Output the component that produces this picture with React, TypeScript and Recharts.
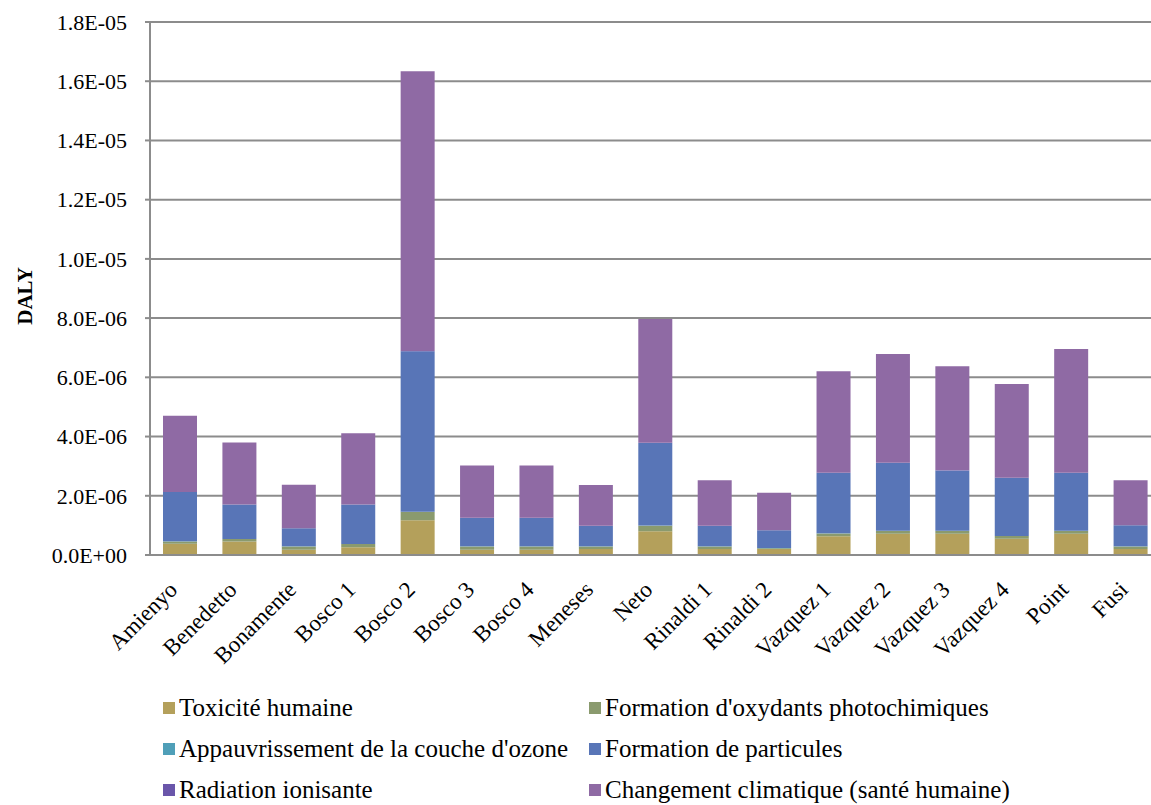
import { BarChart, Bar, XAxis, YAxis, CartesianGrid, Legend } from 'recharts';

// values in units of 1E-06 DALY
const categories = [
  'Amienyo', 'Benedetto', 'Bonamente', 'Bosco 1', 'Bosco 2', 'Bosco 3', 'Bosco 4', 'Meneses', 'Neto',
  'Rinaldi 1', 'Rinaldi 2', 'Vazquez 1', 'Vazquez 2', 'Vazquez 3', 'Vazquez 4', 'Point', 'Fusi',
];
const toxicite = [0.38, 0.46, 0.18, 0.26, 1.17, 0.18, 0.18, 0.2, 0.8, 0.2, 0.2, 0.63, 0.72, 0.72, 0.55, 0.72, 0.2];
const oxydants = [0.08, 0.08, 0.11, 0.11, 0.28, 0.11, 0.11, 0.09, 0.19, 0.09, 0.03, 0.1, 0.09, 0.09, 0.09, 0.09, 0.09];
const ozone = [0.004, 0.004, 0.003, 0.003, 0.01, 0.003, 0.003, 0.003, 0.006, 0.003, 0.003, 0.005, 0.005, 0.005, 0.005, 0.005, 0.003];
const particules = [1.66, 1.16, 0.61, 1.33, 5.42, 0.96, 0.96, 0.69, 2.79, 0.69, 0.6, 2.04, 2.3, 2.04, 1.96, 1.96, 0.71];
const radiation = [0.002, 0.002, 0.002, 0.002, 0.006, 0.002, 0.002, 0.002, 0.004, 0.002, 0.002, 0.003, 0.003, 0.003, 0.003, 0.003, 0.002];
const climat = [2.58, 2.09, 1.47, 2.41, 9.45, 1.77, 1.77, 1.38, 4.18, 1.54, 1.27, 3.43, 3.67, 3.52, 3.17, 4.18, 1.52];
const yTicks = [0, 2, 4, 6, 8, 10, 12, 14, 16, 18];

const series = [
  { key: 'tox', name: 'Toxicité humaine', color: '#b4a05b', values: toxicite },
  { key: 'oxy', name: "Formation d'oxydants photochimiques", color: '#8a9a6e', values: oxydants },
  { key: 'ozo', name: "Appauvrissement de la couche d'ozone", color: '#4f9fb8', values: ozone },
  { key: 'par', name: 'Formation de particules', color: '#5875b7', values: particules },
  { key: 'rad', name: 'Radiation ionisante', color: '#6a56aa', values: radiation },
  { key: 'cli', name: 'Changement climatique (santé humaine)', color: '#8f6aa4', values: climat },
];

const data = categories.map((name, i) => {
  const row: any = { name };
  series.forEach((s) => (row[s.key] = s.values[i]));
  return row;
});

const FONT = '"Liberation Serif"';
const GRID = '#8c8c8c';

const sci = (v: number) => {
  if (v === 0) return '0.0E+00';
  const [m, e] = (v * 1e-6).toExponential(1).split('e');
  const n = parseInt(e, 10);
  return `${m}E${n < 0 ? '-' : '+'}${String(Math.abs(n)).padStart(2, '0')}`;
};

const XTick = ({ x, y, payload }: any) => (
  <text
    x={x - 1}
    y={y + 36}
    transform={`rotate(-45, ${x - 1}, ${y + 36})`}
    textAnchor="end"
    style={{ fontFamily: FONT, fontSize: 23 }}
    fill="#000"
  >
    {payload.value}
  </text>
);

const YLabel = () => (
  <text
    x={25}
    y={296}
    transform="rotate(-90, 25, 296)"
    textAnchor="middle"
    dominantBaseline="central"
    style={{ fontFamily: FONT, fontSize: 21, fontWeight: 'bold' }}
    fill="#000"
  >
    DALY
  </text>
);

const LegendBox = () => (
  <div
    style={{
      display: 'grid',
      gridTemplateColumns: '426px 520px',
      fontFamily: FONT,
      fontSize: 25,
      color: '#000',
    }}
  >
    {series.map((s) => (
      <div key={s.key} style={{ display: 'flex', alignItems: 'center', height: 41, whiteSpace: 'nowrap' }}>
        <span style={{ width: 12, height: 12, background: s.color, marginRight: 4, flex: 'none' }} />
        {s.name}
      </div>
    ))}
  </div>
);

export default function App() {
  return (
    <div style={{ position: 'absolute', left: 0, top: 0, width: 1151, height: 805, overflow: 'hidden', background: '#fff' }}>
      <BarChart width={1160} height={805} data={data} margin={{ top: 22, right: 0, bottom: 0, left: 0 }} barSize={34}>
        <CartesianGrid vertical={false} stroke={GRID} strokeWidth={2} />
        <XAxis
          dataKey="name"
          interval={0}
          height={250}
          tickLine={false}
          tickSize={0}
          tickMargin={0}
          axisLine={{ stroke: GRID, strokeWidth: 2 }}
          tick={<XTick />}
        />
        <YAxis
          width={150}
          domain={[0, 18]}
          ticks={yTicks}
          tickFormatter={sci}
          interval={0}
          tickSize={5}
          tickMargin={18}
          tickLine={{ stroke: GRID, strokeWidth: 2 }}
          axisLine={{ stroke: GRID, strokeWidth: 2 }}
          tick={{ style: { fontFamily: FONT, fontSize: 22 }, fill: '#000' }}
          label={<YLabel />}
        />
        <Legend
          layout="horizontal"
          verticalAlign="middle"
          align="center"
          wrapperStyle={{ top: 687, left: 163, width: 960 }}
          content={<LegendBox />}
        />
        {series.map((s) => (
          <Bar key={s.key} dataKey={s.key} name={s.name} stackId="a" fill={s.color} isAnimationActive={false} />
        ))}
      </BarChart>
    </div>
  );
}
